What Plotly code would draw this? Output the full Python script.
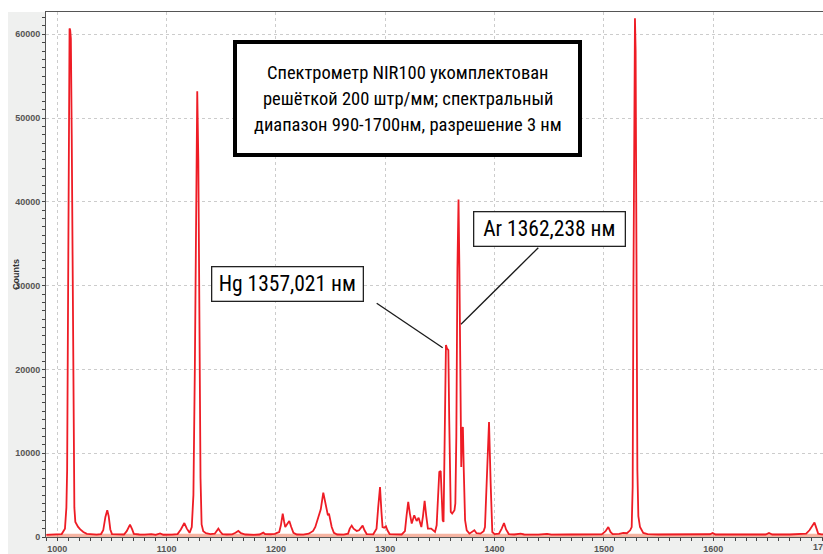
import plotly.graph_objects as go

# Spectrum (wavelength, nm ; counts)
wavelength = [
    990, 995, 1000, 1004, 1007, 1008.3, 1009, 1009.7, 1010.5, 1011.2, 1011.8, 1012.4, 1013.2, 1014, 1014.8,
    1015.6, 1016.5, 1017.5, 1019, 1021, 1023.8, 1027, 1031, 1036, 1040, 1042, 1044, 1045.7, 1047, 1048.5,
    1050, 1055, 1061, 1063.5, 1066.5, 1068.5, 1070, 1075, 1080, 1086, 1090, 1094, 1097, 1105, 1110,
    1113, 1116.2, 1118.5, 1121, 1123, 1124.5, 1125.8, 1127, 1128, 1129, 1130, 1131, 1132, 1133.5, 1136,
    1140, 1144, 1146, 1147.3, 1149, 1151, 1155, 1160, 1163, 1165.6, 1168, 1172, 1180, 1185, 1188.4,
    1190, 1195, 1199, 1201, 1203, 1204.5, 1206.2, 1207.5, 1208.5, 1210, 1212.2, 1214, 1216, 1219, 1225,
    1230, 1234, 1236, 1238.7, 1241, 1243.3, 1245, 1246.4, 1247.5, 1248.5, 1250, 1251, 1253, 1256, 1262,
    1266, 1267.5, 1269.3, 1271, 1273.9, 1276, 1279.3, 1281, 1283, 1289, 1292, 1293.5, 1295.2, 1296.5,
    1297.5, 1299, 1300.6, 1302, 1304, 1315, 1318, 1319.5, 1321, 1322.5, 1324.2, 1326.5, 1328.7, 1330.5,
    1333, 1334.5, 1336, 1337.5, 1339, 1342, 1345.5, 1347, 1347.8, 1348.6, 1349.4, 1350.7, 1351.6, 1352.5,
    1353.3, 1354.3, 1355, 1355.5, 1356.5, 1357.7, 1358.5, 1359.3, 1359.9, 1361.2, 1362, 1363.3, 1364.1,
    1365, 1366, 1367, 1367.8, 1368.6, 1369.5, 1370.3, 1371, 1371.8, 1373, 1374.5, 1377, 1381.5, 1383.5,
    1387, 1390, 1391.2, 1392.7, 1394.9, 1396.4, 1397.9, 1400, 1404, 1406.5, 1408.6, 1410.5, 1413, 1418,
    1423.9, 1427, 1440, 1448, 1452, 1470, 1490, 1498, 1501.5, 1504, 1506, 1508, 1514, 1517.7, 1521,
    1524, 1525.4, 1526.3, 1527, 1527.8, 1528.4, 1529, 1529.8, 1530.6, 1531.5, 1533, 1536, 1540, 1550,
    1570, 1590, 1597, 1599.5, 1602, 1620, 1640, 1648, 1651, 1654, 1670, 1685, 1688, 1690, 1692.6,
    1694.5, 1696, 1699, 1701,
]
counts = [
    260, 270, 280, 350, 1000, 3500, 8000, 30000, 52000, 60700, 60500, 59500, 48000, 28000, 10000,
    3500, 1800, 1500, 1200, 900, 600, 380, 300, 280, 350, 800, 2400, 3200, 2500, 900,
    350, 290, 300, 700, 1480, 900, 380, 300, 280, 350, 260, 420, 270, 280, 350,
    900, 1670, 1000, 500, 1200, 5000, 20000, 45000, 53200, 45000, 22000, 7000, 1500, 700, 450,
    350, 400, 800, 1000, 650, 350, 300, 320, 500, 720, 450, 300, 260, 300, 520,
    350, 330, 380, 500, 600, 1400, 2790, 1800, 1200, 1500, 1910, 1200, 500, 300, 290,
    400, 720, 1200, 2390, 3300, 5300, 4200, 3190, 2600, 2790, 1800, 1190, 500, 300, 290,
    400, 1000, 1360, 1000, 720, 800, 1360, 800, 350, 320, 1000, 3500, 5950, 3000,
    1190, 1100, 1280, 800, 350, 300, 700, 2600, 4180, 2800, 1600, 2590, 1910, 2310,
    1190, 2500, 4300, 2500, 1000, 1000, 600, 1400, 3500, 6000, 7760, 7880, 5000, 2000,
    1800, 10000, 20000, 22900, 22500, 22300, 14000, 5000, 2990, 2790, 3000, 3190, 4000,
    12000, 32000, 40270, 32000, 18000, 8360, 12800, 13130, 8000, 2000, 800, 400, 800, 450,
    400, 700, 1190, 6370, 13730, 6370, 600, 350, 400, 1000, 1670, 900, 350, 300,
    400, 300, 280, 380, 280, 300, 300, 320, 700, 1190, 600, 350, 380, 500, 450,
    800, 1190, 6000, 30000, 58000, 61900, 58000, 30000, 8000, 2500, 1190, 480, 350, 300,
    320, 300, 330, 480, 300, 300, 280, 300, 480, 300, 300, 400, 800, 1200, 1720,
    1000, 400, 320, 300,
]

# Dark (background) level drawn as a salmon band along the baseline
dark_wl = [990, 1701]
dark_counts = [380, 380]

x_range = [989.66, 1700.4]
y_range = [0, 62660]
edge_tick = 1700  # last x tick label, cut by the window edge

main_lines = ["Спектрометр NIR100 укомплектован",
              "решёткой 200 штр/мм; спектральный",
              "диапазон 990-1700нм, разрешение 3 нм"]
hg_label = "Hg 1357,021 нм"
ar_label = "Ar 1362,238 нм"

W, H = 823, 554
ML, MR, MT, MB = 46, 0, 12, 17
PW, PH = W - ML - MR, H - MT - MB


def px(x):
    return (x - ML) / PW


def py(y):
    return (H - MB - y) / PH


NARROW = "Liberation Sans Narrow, Arial Narrow, Roboto Condensed, Liberation Sans, sans-serif"

fig = go.Figure()
fig.add_trace(go.Scatter(x=dark_wl, y=dark_counts, mode="lines", fill="tozeroy",
                         line=dict(width=0, color="rgba(0,0,0,0)"),
                         fillcolor="rgba(240,130,100,0.6)", hoverinfo="skip", showlegend=False))
fig.add_trace(go.Scatter(x=wavelength, y=counts, mode="lines",
                         line=dict(color="#ee1c25", width=1.8), showlegend=False))

grid = dict(showgrid=True, gridcolor="#cccccc", griddash="dot", gridwidth=1)
tickfont = dict(family="Liberation Sans, Arial, sans-serif", size=9, color="#555555", weight="bold")

fig.update_xaxes(range=x_range, dtick=100, tick0=1000, ticks="outside", ticklen=3, tickcolor="#444",
                 minor=dict(dtick=10, ticks="outside", ticklen=3, tickcolor="#444", showgrid=False),
                 showline=True, linecolor="#555", linewidth=1, mirror=True, zeroline=False,
                 tickformat="d", tickfont=tickfont, automargin=False, **grid)
fig.update_yaxes(range=y_range, dtick=10000, ticks="outside", ticklen=3, tickcolor="#444",
                 minor=dict(dtick=1000, ticks="outside", ticklen=3, tickcolor="#444", showgrid=False),
                 showline=True, linecolor="#555", linewidth=1, zeroline=False,
                 tickformat="d", tickfont=tickfont, automargin=False, **grid)

shapes = [
    # white strips outside the grey frame
    dict(type="rect", xref="paper", yref="paper", x0=px(0), x1=px(W), y0=py(0), y1=py(MT),
         fillcolor="white", line=dict(width=0), layer="below"),
    dict(type="rect", xref="paper", yref="paper", x0=px(0), x1=px(8), y0=py(0), y1=py(H),
         fillcolor="white", line=dict(width=0), layer="below"),
    # main caption box
    dict(type="rect", xref="paper", yref="paper", x0=px(235), x1=px(580), y0=py(42), y1=py(155),
         fillcolor="white", line=dict(color="black", width=4), layer="above"),
    # leader lines
    dict(type="line", xref="paper", yref="paper", x0=px(376.7), y0=py(303.3), x1=px(442.7), y1=py(347.7),
         line=dict(color="#1a1a1a", width=1.3)),
    dict(type="line", xref="paper", yref="paper", x0=px(538.3), y0=py(247.7), x1=px(461), y1=py(324.3),
         line=dict(color="#1a1a1a", width=1.3)),
]

annotations = []
for i, line in enumerate(main_lines):
    annotations.append(dict(text=line, xref="paper", yref="paper", x=px(407.5), y=py(72.5 + 26 * i),
                            xanchor="center", yanchor="middle", showarrow=False,
                            font=dict(family=NARROW, size=18.5, color="black")))
annotations += [
    dict(text=hg_label, xref="paper", yref="paper", x=px(287.8), y=py(284.2), xanchor="center",
         yanchor="middle", showarrow=False, bgcolor="white", bordercolor="#222", borderwidth=1.3,
         borderpad=4, width=142, font=dict(family=NARROW, size=21.5, color="black")),
    dict(text=ar_label, xref="paper", yref="paper", x=px(549.5), y=py(228.5), xanchor="center",
         yanchor="middle", showarrow=False, bgcolor="white", bordercolor="#222", borderwidth=1.3,
         borderpad=4, width=142, font=dict(family=NARROW, size=21.5, color="black")),
    dict(text="<b>Counts</b>", xref="paper", yref="paper", x=px(16), y=py(275), textangle=-90,
         xanchor="center", yanchor="middle", showarrow=False,
         font=dict(family="Liberation Sans, Arial, sans-serif", size=9, color="#333")),
    dict(text=str(edge_tick), xref="x", yref="paper", x=edge_tick, y=py(547), xanchor="center",
         yanchor="middle", showarrow=False, font=tickfont),
]

fig.update_layout(width=W, height=H, margin=dict(l=ML, r=MR, t=MT, b=MB, pad=0),
                  paper_bgcolor="#eff0ef", plot_bgcolor="white",
                  shapes=shapes, annotations=annotations, showlegend=False)

fig.write_html("out.html", config={"displayModeBar": False},
               post_script="document.body.style.margin='0';")
